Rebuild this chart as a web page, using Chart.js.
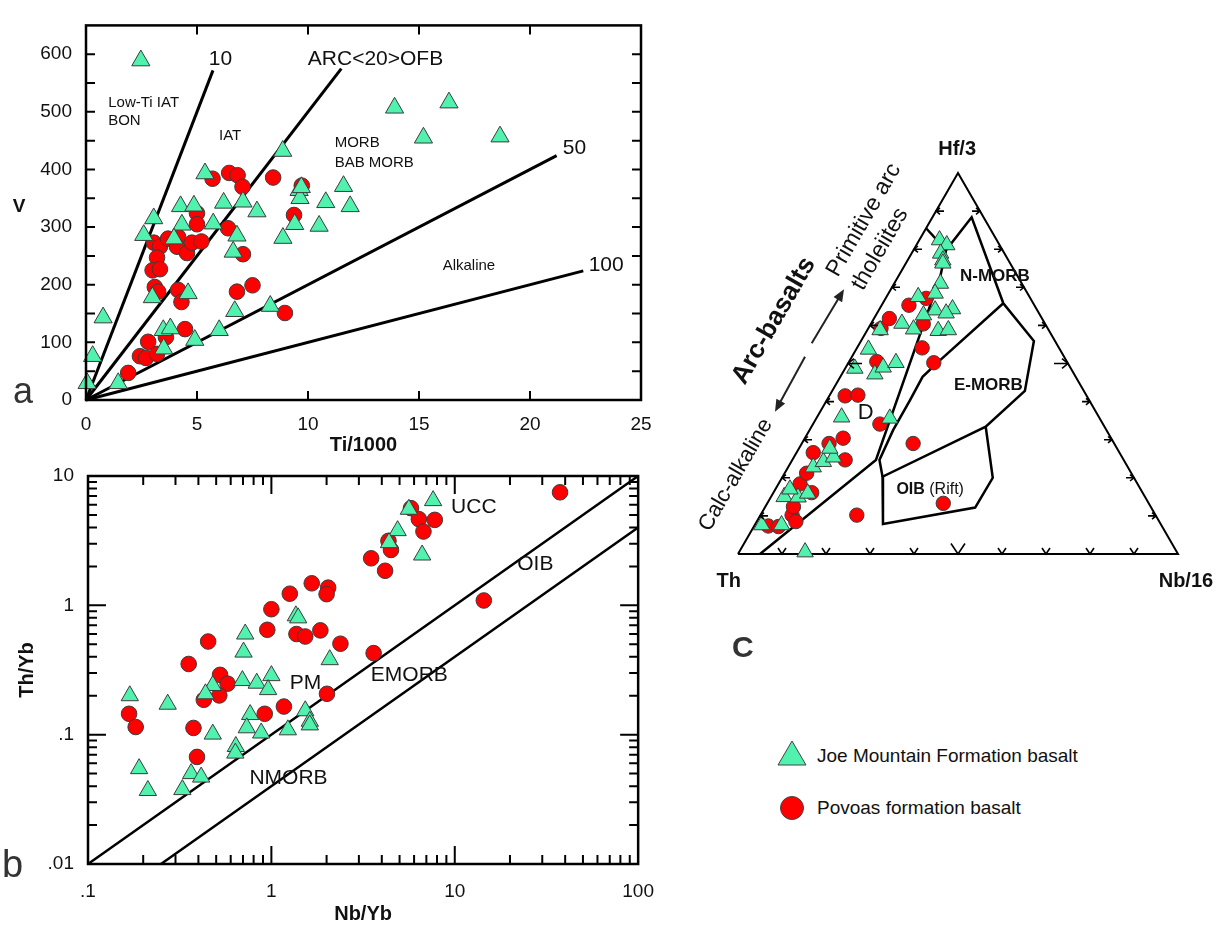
<!DOCTYPE html>
<html>
<head>
<meta charset="utf-8">
<title>Joe Mountain and Povoas basalts</title>
<script src="https://cdn.jsdelivr.net/npm/chart.js@4.4.1/dist/chart.umd.min.js"></script>
<style>
  body { margin: 0; background: #fff; }
  #page { position: relative; width: 1229px; height: 926px; overflow: hidden; font-family: "Liberation Sans", Arial, sans-serif; color: #111; }
  #page canvas { position: absolute; }
  .key { position: absolute; font-size: 19px; line-height: 22px; white-space: nowrap; }
</style>
</head>
<body>
<div id="page">
  <canvas id="chartA" width="670" height="460" style="left:0;top:0"></canvas>
  <canvas id="chartB" width="670" height="476" style="left:0;top:450px"></canvas>
  <canvas id="chartC" width="549" height="580" style="left:680px;top:100px"></canvas>
  <svg style="position:absolute;left:777px;top:740px" width="30" height="26"><polygon points="15,1 29,25 1,25" fill="#50F2AE" stroke="#444" stroke-width="1"/></svg>
  <div class="key" style="left:817px;top:745px">Joe Mountain Formation basalt</div>
  <svg style="position:absolute;left:779px;top:795px" width="26" height="26"><circle cx="13" cy="13" r="11.5" fill="#FF0000" stroke="#444" stroke-width="1"/></svg>
  <div class="key" style="left:817px;top:797px">Povoas formation basalt</div>
</div>
<script>
// ---- a: V vs Ti/1000
const joeTi = [2.47, 0.05, 0.3, 0.77, 1.45, 3.05, 2.6, 2.99, 3.48, 3.8, 3.5, 4.6, 4.9, 4.32, 3.96, 4.26, 4.86, 5.36, 5.73, 6.2, 7.07, 6.8, 6.63, 6.7, 6.0, 7.7, 8.3, 8.87, 8.86, 9.4, 9.6, 9.64, 9.7, 10.5, 10.8, 11.6, 11.9, 13.9, 15.2, 16.35, 18.65];
const joeV = [589, 29, 76, 143, 29, 315, 286, 178, 121, 124, 89, 185, 104, 304, 280, 336, 337, 393, 306, 342, 344, 285, 257, 154, 121, 327, 163, 281, 432, 305, 364, 350, 369, 302, 343, 371, 336, 507, 455, 516, 457];
const povTi = [5.7, 6.45, 6.83, 7.05, 8.43, 9.72, 9.37, 5.0, 5.0, 6.4, 3.06, 3.33, 3.7, 4.15, 4.1, 4.55, 4.77, 5.2, 7.07, 3.2, 3.0, 3.33, 3.1, 3.25, 4.15, 4.3, 6.8, 7.5, 8.96, 4.46, 2.8, 3.6, 2.43, 2.7, 3.2, 1.9];
const povV = [384, 394, 390, 370, 386, 372, 321, 324, 305, 298, 273, 266, 280, 283, 266, 255, 273, 275, 253, 247, 225, 227, 196, 188, 191, 170, 188, 199, 151, 123, 101, 109, 76, 73, 80, 47];
const tiVRatios = [10, 20, 50, 100];
const tiVLineEnd = [5.72, 11.5, 21.2, 22.4]; // Ti/1000 where each Ti/V line stops

// ---- b: Th/Yb vs Nb/Yb
const joeNbYb = [0.169, 0.272, 0.19, 0.212, 0.479, 0.72, 0.705, 0.479, 0.437, 0.695, 0.832, 1.0, 0.96, 1.36, 1.4, 2.08, 0.766, 0.734, 0.88, 1.23, 1.53, 1.62, 1.62, 0.64, 0.636, 0.365, 0.414, 0.327, 7.62, 5.62, 4.88, 4.38, 6.64];
const joeThYb = [0.2, 0.172, 0.0546, 0.037, 0.101, 0.6, 0.435, 0.24, 0.207, 0.262, 0.25, 0.286, 0.223, 0.83, 0.8, 0.38, 0.143, 0.113, 0.103, 0.109, 0.153, 0.127, 0.119, 0.081, 0.072, 0.05, 0.047, 0.0376, 6.45, 5.53, 3.78, 3.05, 2.45];
const povNbYb = [0.1675, 0.182, 0.354, 0.452, 0.376, 0.393, 0.525, 0.577, 0.52, 0.428, 0.95, 1.0, 1.26, 1.66, 2.04, 2.0, 1.37, 1.53, 1.85, 2.38, 3.61, 2.01, 1.17, 0.92, 3.5, 4.17, 37.5, 5.77, 6.37, 7.78, 6.75, 4.35, 4.49, 14.4];
const povThYb = [0.145, 0.1146, 0.352, 0.525, 0.1127, 0.0673, 0.29, 0.248, 0.201, 0.186, 0.647, 0.933, 1.23, 1.48, 1.37, 1.22, 0.6, 0.574, 0.64, 0.505, 0.427, 0.207, 0.165, 0.145, 2.31, 1.85, 7.48, 5.64, 4.64, 4.58, 3.72, 3.15, 2.68, 1.09];
const arrayRatios = [0.1, 0.04];     // Th/Yb = k * Nb/Yb, the MORB-OIB array limits
const arrayStart = [0.1, 0.25];
const arrayEnd = [100, 100];
const bDecades = [0.01, 0.1, 1, 10, 100];
const bDecadeLabels = ['.01', '.1', '1', '10', '100'];

// ---- c: Th - Hf/3 - Nb/16 (values in %, Th is the remainder)
const joeHf = [82.4, 81.1, 78.9, 77.1, 76.3, 71.0, 68.4, 67.5, 64.0, 64.3, 63.2, 62.7, 60.5, 59.0, 58.6, 58.8, 53.7, 48.7, 47.2, 49.0, 50.2, 58.8, 35.9, 35.6, 15.0, 14.9, 7.6, 0.5, 22.8, 24.2, 25.4, 27.7, 17.0, 15.9, 7.6];
const joeNb = [4.6, 6.9, 6.6, 8.0, 8.4, 10.5, 10.6, 7.2, 12.8, 16.6, 15.7, 10.8, 7.0, 10.4, 16.2, 18.4, 2.8, 2.2, 7.5, 8.5, 10.8, 2.9, 5.6, 16.7, 3.0, 6.2, 6.1, 15.0, 5.7, 7.3, 9.0, 7.0, 3.3, 7.9, 1.6];
const povHf = [7.35, 10.2, 8.5, 16.1, 18.4, 21.2, 26.6, 29.0, 30.4, 24.7, 41.5, 41.7, 34.1, 29.0, 10.2, 13.3, 59.2, 61.8, 50.5, 54.1, 50.2, 65.3, 60.4, 67.1, 7.2, 12.4];
const povNb = [3.2, 7.2, 8.9, 8.7, 4.9, 5.0, 3.8, 6.2, 8.7, 12.0, 3.6, 6.4, 15.2, 25.3, 21.9, 40.0, 2.9, 3.5, 6.3, 14.8, 19.4, 6.2, 11.9, 9.2, 5.6, 6.4];
// field boundaries as [Hf/3 %, Nb/16 %]
const triOutline = [[0, 0], [0, 100], [100, 0], [0, 0]];
const fieldOuter = [[85.5, 0], [79.8, 7.4], [88.4, 8.9], [65.8, 27.4], [55.9, 39.3], [42.8, 43.8], [33.4, 39.6], [20.3, 22.7], [7.9, 29.0], [12.2, 47.8], [20.0, 47.9], [33.4, 39.6]];
const fieldEmorb = [[65.8, 27.4], [50.9, 20.5], [46.5, 18.7], [40.4, 18.9], [32.5, 19.0], [24.7, 19.8], [20.3, 22.7]];
const fieldArc = [[79.8, 7.4], [72.7, 9.6], [24.7, 19.0], [0, 5.0]];

// ---- look
const FONT = '"Liberation Sans", Arial, sans-serif';
Chart.defaults.font.family = FONT;
Chart.defaults.color = '#111';
const GREEN = '#50F2AE', RED = '#FF0000', EDGE = '#3c3c3c';

const pts = (xs, ys) => xs.map((v, i) => ({ x: v, y: ys[i] }));
const SQ = Math.sqrt(3) / 2;
const tern = (hf, nb) => ({ x: (nb + hf / 2) / 100, y: hf * SQ / 100 });

function say(ctx, t, x, y, font, align = 'center', rot = 0, base = 'middle', color = '#111') {
  ctx.save();
  ctx.translate(x, y);
  ctx.rotate(rot * Math.PI / 180);
  ctx.font = font;
  ctx.textAlign = align;
  ctx.textBaseline = base;
  ctx.fillStyle = color;
  ctx.fillText(t, 0, 0);
  ctx.restore();
}

// inward tick marks on both sides of an axis
function inTicks(ctx, a, scale, horiz, values, lenOf) {
  ctx.beginPath();
  values.forEach(v => {
    const p = scale.getPixelForValue(v), L = lenOf(v);
    if (horiz) {
      ctx.moveTo(p, a.bottom); ctx.lineTo(p, a.bottom - L);
      ctx.moveTo(p, a.top); ctx.lineTo(p, a.top + L);
    } else {
      ctx.moveTo(a.left, p); ctx.lineTo(a.left + L, p);
      ctx.moveTo(a.right, p); ctx.lineTo(a.right - L, p);
    }
  });
  ctx.stroke();
}

function baseOptions(padding) {
  return {
    responsive: false, animation: false, events: [],
    layout: { padding },
    plugins: { legend: { display: false }, tooltip: { enabled: false } }
  };
}
const noGrid = { display: false, drawTicks: false };
const tickFont = { size: 19, family: FONT };
const titleFont = { size: 20, weight: 'bold', family: FONT };

const joeStyle = { pointStyle: 'triangle', backgroundColor: GREEN, borderColor: EDGE, borderWidth: 1, clip: false };
const povStyle = { pointStyle: 'circle', backgroundColor: RED, borderColor: EDGE, borderWidth: 1, clip: false };
const lineStyle = { showLine: true, pointRadius: 0, borderColor: '#000', fill: false, clip: false };

// ================= a =================
const aNotes = [
  { t: '10', x: 6.06, y: 592, size: 21 },
  { t: 'ARC<20>OFB', x: 13.04, y: 592, size: 21 },
  { t: '50', x: 22.0, y: 437, size: 21 },
  { t: '100', x: 23.43, y: 234, size: 21 },
  { t: 'Low-Ti IAT', x: 1.0, y: 516, size: 15, align: 'left' },
  { t: 'BON', x: 1.0, y: 485, size: 15, align: 'left' },
  { t: 'IAT', x: 6.49, y: 459, size: 15 },
  { t: 'MORB', x: 11.2, y: 447, size: 15, align: 'left' },
  { t: 'BAB MORB', x: 11.2, y: 412, size: 15, align: 'left' },
  { t: 'Alkaline', x: 17.25, y: 232, size: 15 }
];

const panelA = {
  id: 'panelA',
  afterDraw(chart) {
    const { ctx, chartArea: a, scales: { x, y } } = chart;
    ctx.save();
    ctx.strokeStyle = '#000';
    ctx.lineWidth = 2;
    const yt = []; for (let v = 50; v <= 600; v += 50) yt.push(v);
    inTicks(ctx, a, x, true, [5, 10, 15, 20], () => 9);
    inTicks(ctx, a, y, false, yt, () => 9);
    ctx.lineWidth = 2.5;
    ctx.strokeRect(a.left, a.top, a.right - a.left, a.bottom - a.top);
    aNotes.forEach(n => say(ctx, n.t, x.getPixelForValue(n.x), y.getPixelForValue(n.y), n.size + 'px ' + FONT, n.align || 'center'));
    say(ctx, 'V', 19, 207, 'bold 19px ' + FONT);
    say(ctx, 'a', 13, 403, '36px ' + FONT, 'left', 0, 'alphabetic', '#333');
    ctx.restore();
  }
};

new Chart(document.getElementById('chartA'), {
  type: 'scatter',
  data: {
    datasets: [
      { ...joeStyle, data: pts(joeTi, joeV), pointRadius: 10.5 },
      { ...povStyle, data: pts(povTi, povV), pointRadius: 7.8 },
      ...tiVRatios.map((r, i) => ({ ...lineStyle, borderWidth: 3, data: [{ x: 0, y: 0 }, { x: tiVLineEnd[i], y: tiVLineEnd[i] * 1000 / r }] }))
    ]
  },
  options: {
    ...baseOptions({ top: 13, right: 29, left: 0, bottom: 0 }),
    scales: {
      x: {
        type: 'linear', min: 0, max: 25, grid: noGrid, border: { display: false },
        ticks: { stepSize: 5, font: tickFont, padding: 13, maxRotation: 0 },
        title: { display: true, text: 'Ti/1000', font: titleFont, padding: { top: 0, bottom: 3 } },
        afterFit: s => { s.height = 60; }
      },
      y: {
        type: 'linear', min: 0, max: 650, grid: noGrid, border: { display: false },
        ticks: { stepSize: 50, autoSkip: false, font: tickFont, padding: 14, callback: v => (v % 100 === 0 ? v : '') },
        afterFit: s => { s.width = 86; }
      }
    }
  },
  plugins: [panelA]
});

// ================= b =================
const bNotes = [
  { t: 'UCC', x: 12.7, y: 5.69 },
  { t: 'OIB', x: 27.5, y: 2.09 },
  { t: 'EMORB', x: 5.65, y: 0.286 },
  { t: 'PM', x: 1.535, y: 0.248 },
  { t: 'NMORB', x: 1.24, y: 0.046 }
];

function logMarks(min, max) {
  const out = [];
  for (let e = -3; e <= 3; e++) for (let m = 1; m <= 9; m++) {
    const v = m * Math.pow(10, e);
    if (v > min * 1.0001 && v < max * 0.9999) out.push(v);
  }
  return out;
}
const isDecade = v => Math.abs(Math.log10(v) - Math.round(Math.log10(v))) < 1e-6;

const panelB = {
  id: 'panelB',
  afterDraw(chart) {
    const { ctx, chartArea: a, scales: { x, y } } = chart;
    ctx.save();
    ctx.strokeStyle = '#000';
    ctx.lineWidth = 2;
    inTicks(ctx, a, x, true, logMarks(0.1, 100), v => (isDecade(v) ? 18 : 9));
    inTicks(ctx, a, y, false, logMarks(0.01, 10), v => (isDecade(v) ? 18 : 9));
    ctx.lineWidth = 2.5;
    ctx.strokeRect(a.left, a.top, a.right - a.left, a.bottom - a.top);
    bNotes.forEach(n => say(ctx, n.t, x.getPixelForValue(n.x), y.getPixelForValue(n.y), '21px ' + FONT));
    say(ctx, 'b', 2, 427, '38px ' + FONT, 'left', 0, 'alphabetic', '#333');
    ctx.restore();
  }
};

const decadeTicks = s => { s.ticks = bDecades.filter(v => v >= s.min * 0.999 && v <= s.max * 1.001).map(v => ({ value: v })); };
const decadeLabel = v => bDecadeLabels[bDecades.findIndex(d => Math.abs(d - v) < d * 1e-6)];

new Chart(document.getElementById('chartB'), {
  type: 'scatter',
  data: {
    datasets: [
      { ...joeStyle, data: pts(joeNbYb, joeThYb), pointRadius: 10 },
      { ...povStyle, data: pts(povNbYb, povThYb), pointRadius: 7.8 },
      ...arrayRatios.map((k, i) => ({ ...lineStyle, borderWidth: 2.5, data: [{ x: arrayStart[i], y: arrayStart[i] * k }, { x: arrayEnd[i], y: arrayEnd[i] * k }] }))
    ]
  },
  options: {
    ...baseOptions({ top: 26, right: 29, left: 0, bottom: 0 }),
    scales: {
      x: {
        type: 'logarithmic', min: 0.1, max: 100, grid: noGrid, border: { display: false },
        afterBuildTicks: decadeTicks,
        ticks: { autoSkip: false, maxRotation: 0, font: tickFont, padding: 16, callback: decadeLabel },
        title: { display: true, text: 'Nb/Yb', font: titleFont, padding: { top: 0, bottom: 0 } },
        afterFit: s => { s.height = 62; }
      },
      y: {
        type: 'logarithmic', min: 0.01, max: 10, grid: noGrid, border: { display: false },
        afterBuildTicks: decadeTicks,
        ticks: { autoSkip: false, font: tickFont, padding: 14, callback: decadeLabel },
        title: { display: true, text: 'Th/Yb', font: titleFont, padding: { top: 15, bottom: 0 } },
        afterFit: s => { s.width = 88; }
      }
    }
  },
  plugins: [panelB]
});

// ================= c =================
const cNotes = [
  { t: 'Hf/3', x: 0.498, y: 0.919, font: 'bold 20px' },
  { t: 'Th', x: -0.021, y: -0.063, font: 'bold 20px' },
  { t: 'Nb/16', x: 1.018, y: -0.063, font: 'bold 20px' },
  { t: 'N-MORB', x: 0.584, y: 0.632, font: 'bold 17px' },
  { t: 'E-MORB', x: 0.569, y: 0.384, font: 'bold 17px' },
  { t: 'D', x: 0.29, y: 0.321, font: '22px' },
  { t: 'Arc-basalts', x: 0.0818, y: 0.53, font: 'bold 26px', rot: -60 },
  { t: 'Primitive arc', x: 0.286, y: 0.759, font: '23px', rot: -60 },
  { t: 'tholeiites', x: 0.323, y: 0.693, font: '23px', rot: -60 },
  { t: 'Calc-alkaline', x: -0.005, y: 0.18, font: '22px', rot: -60 }
];
const cArrows = [
  [[0.1675, 0.4789], [0.2409, 0.6016]],
  [[0.1523, 0.4484], [0.0841, 0.3234]]
];

function arrow(ctx, x1, y1, x2, y2) {
  const ang = Math.atan2(y2 - y1, x2 - x1), h = 12, w = 5;
  const c = Math.cos(ang), s = Math.sin(ang);
  ctx.beginPath(); ctx.moveTo(x1, y1); ctx.lineTo(x2 - h * 0.7 * c, y2 - h * 0.7 * s); ctx.stroke();
  ctx.beginPath();
  ctx.moveTo(x2, y2);
  ctx.lineTo(x2 - h * c + w * s, y2 - h * s - w * c);
  ctx.lineTo(x2 - h * c - w * s, y2 - h * s + w * c);
  ctx.closePath(); ctx.fill();
}

const panelC = {
  id: 'panelC',
  afterDraw(chart) {
    const { ctx, scales: { x, y } } = chart;
    const P = p => ({ x: x.getPixelForValue(p.x), y: y.getPixelForValue(p.y) });
    ctx.save();
    ctx.strokeStyle = '#000';
    ctx.lineWidth = 1.6;
    ctx.beginPath();
    for (let k = 1; k <= 9; k++) {
      const big = k === 5, L = big ? 14 : 8, h = big ? 6 : 4;
      let p = P(tern(k * 10, 0));            // Th - Hf/3 edge
      ctx.moveTo(p.x + L, p.y); ctx.lineTo(p.x, p.y);
      ctx.moveTo(p.x + h, p.y - h * 0.8); ctx.lineTo(p.x, p.y); ctx.lineTo(p.x + h, p.y + h * 0.8);
      p = P(tern(k * 10, 100 - k * 10));     // Hf/3 - Nb/16 edge
      ctx.moveTo(p.x - L, p.y); ctx.lineTo(p.x, p.y);
      ctx.moveTo(p.x - h, p.y - h * 0.8); ctx.lineTo(p.x, p.y); ctx.lineTo(p.x - h, p.y + h * 0.8);
      p = P(tern(0, k * 10));                // Th - Nb/16 edge
      const v = big ? 7 : 4;
      ctx.moveTo(p.x - v, p.y - v * 1.5); ctx.lineTo(p.x, p.y); ctx.lineTo(p.x + v, p.y - v * 1.5);
    }
    ctx.stroke();

    ctx.strokeStyle = '#222'; ctx.fillStyle = '#222'; ctx.lineWidth = 2;
    cArrows.forEach(([a, b]) => {
      const p = P({ x: a[0], y: a[1] }), q = P({ x: b[0], y: b[1] });
      arrow(ctx, p.x, p.y, q.x, q.y);
    });

    cNotes.forEach(n => {
      const p = P(n);
      say(ctx, n.t, p.x, p.y, n.font + ' ' + FONT, 'center', n.rot || 0);
    });
    const o = P({ x: 0.36, y: 0.147 });
    ctx.font = 'bold 16px ' + FONT;
    const wOib = ctx.measureText('OIB').width;
    say(ctx, 'OIB', o.x, o.y, 'bold 16px ' + FONT, 'left');
    say(ctx, ' (Rift)', o.x + wOib, o.y, '16px ' + FONT, 'left');
    const c = P({ x: -0.0136, y: -0.234 });
    say(ctx, 'C', c.x, c.y, 'bold 30px ' + FONT, 'left', 0, 'alphabetic', '#333');
    ctx.restore();
  }
};

const ternLine = (list, width) => ({ ...lineStyle, borderWidth: width, data: list.map(([hf, nb]) => tern(hf, nb)) });

new Chart(document.getElementById('chartC'), {
  type: 'scatter',
  data: {
    datasets: [
      { ...joeStyle, data: joeHf.map((hf, i) => tern(hf, joeNb[i])), pointRadius: 9.5 },
      { ...povStyle, data: povHf.map((hf, i) => tern(hf, povNb[i])), pointRadius: 7.2 },
      ternLine(fieldOuter, 2.5),
      ternLine(fieldEmorb, 2.5),
      ternLine(fieldArc, 2.5),
      ternLine(triOutline, 2)
    ]
  },
  options: {
    ...baseOptions({ left: 58, right: 51, top: 73, bottom: 126 }),
    scales: {
      x: { type: 'linear', min: 0, max: 1, display: false },
      y: { type: 'linear', min: 0, max: SQ, display: false }
    }
  },
  plugins: [panelC]
});
</script>
</body>
</html>
